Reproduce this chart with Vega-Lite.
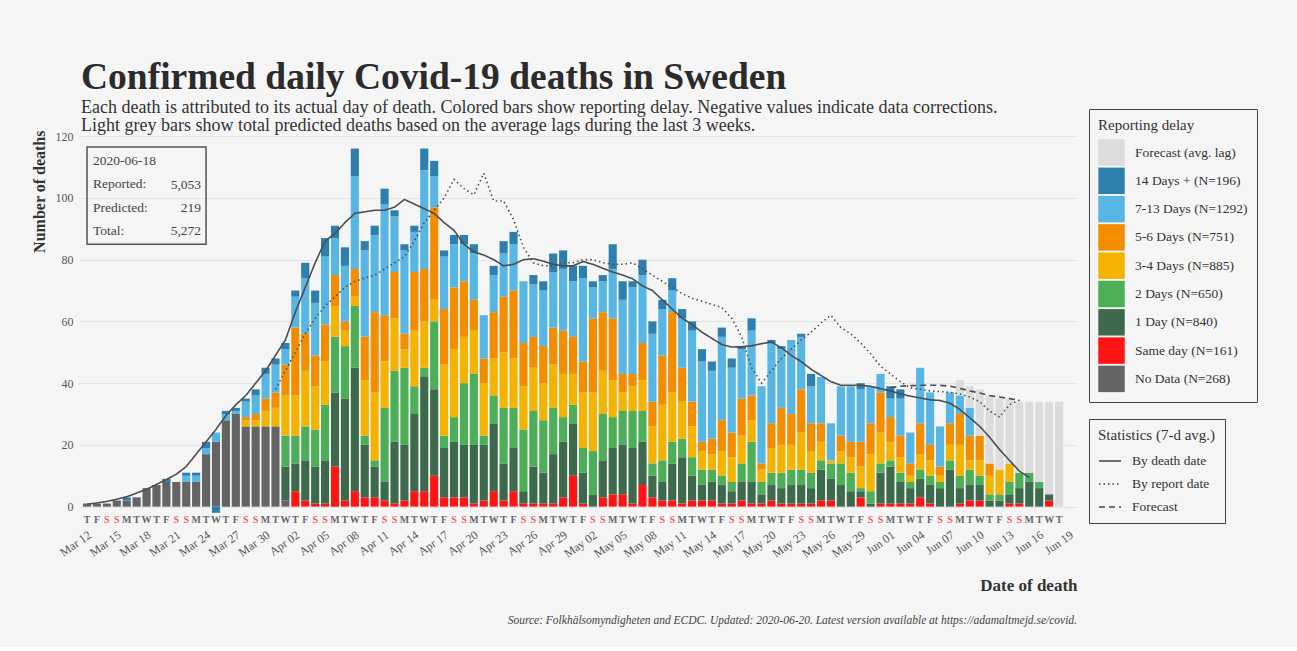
{
  "$schema": "https://vega.github.io/schema/vega-lite/v6.json",
  "background": "#f5f5f5",
  "padding": {"left": 30, "top": 59, "right": 40, "bottom": 20},
  "title": {
    "text": "Confirmed daily Covid-19 deaths in Sweden",
    "subtitle": ["Each death is attributed to its actual day of death. Colored bars show reporting delay. Negative values indicate data corrections.", "Light grey bars show total predicted deaths based on the average lags during the last 3 weeks."],
    "anchor": "start", "dx": 50, "offset": -26,
    "font": "Liberation Serif", "fontSize": 37.5, "fontWeight": "bold", "color": "#2b2b2b",
    "subtitleFont": "Liberation Serif", "subtitleFontSize": 18, "subtitleColor": "#333", "subtitleLineHeight": 18, "subtitlePadding": 2
  },
  "vconcat": [
    {
      "width": 998,
      "height": 389,
      "title": {
        "text": "Source: Folkhälsomyndigheten and ECDC. Updated: 2020-06-20. Latest version available at https://adamaltmejd.se/covid.",
        "orient": "bottom", "anchor": "end", "frame": "group", "offset": 22,
        "font": "Liberation Serif", "fontSize": 11.5, "fontStyle": "italic", "fontWeight": "normal", "color": "#444"
      },
      "data": {"values": [
        {"d":"2020-03-12","w":"T","k0":1,"a":0.8},
        {"d":"2020-03-13","w":"F","k0":1,"a":1.2},
        {"d":"2020-03-14","w":"S","k0":1,"a":1.7},
        {"d":"2020-03-15","w":"S","k0":2,"a":2.4},
        {"d":"2020-03-16","w":"M","k0":2,"k7":1,"a":3.2},
        {"d":"2020-03-17","w":"T","k0":3,"a":4.4},
        {"d":"2020-03-18","w":"W","k0":6,"a":5.6},
        {"d":"2020-03-19","w":"T","k0":7,"a":7.2},
        {"d":"2020-03-20","w":"F","k0":8,"k7":1,"a":8.8},
        {"d":"2020-03-21","w":"S","k0":8,"a":10.5},
        {"d":"2020-03-22","w":"S","k0":8,"k6":2,"k7":1,"a":13},
        {"d":"2020-03-23","w":"M","k0":8,"k6":2,"k7":1,"a":17},
        {"d":"2020-03-24","w":"T","k0":17,"k6":2,"k7":2,"a":21},
        {"d":"2020-03-25","w":"W","k0":21,"k6":3,"k7":-2,"a":25},
        {"d":"2020-03-26","w":"T","k0":28,"k6":2,"k7":1,"a":29.5},
        {"d":"2020-03-27","w":"F","k0":30,"k6":1,"k7":1,"a":33},
        {"d":"2020-03-28","w":"S","k0":26,"k4":2,"k5":1,"k6":5,"k7":1,"a":36},
        {"d":"2020-03-29","w":"S","k0":26,"k4":2,"k5":2,"k6":6,"k7":2,"a":40},
        {"d":"2020-03-30","w":"M","k0":26,"k4":5,"k5":4,"k6":8,"k7":2,"a":44},
        {"d":"2020-03-31","w":"T","k0":26,"k4":6,"k5":5,"k6":9,"k7":2,"a":49,"r":38},
        {"d":"2020-04-01","w":"W","k0":2,"k2":11,"k3":10,"k4":13,"k5":10,"k6":5,"k7":2,"a":54,"r":44},
        {"d":"2020-04-02","w":"T","k1":5,"k2":9,"k3":9,"k4":13,"k5":22,"k6":10,"k7":2,"a":63,"r":50},
        {"d":"2020-04-03","w":"F","k1":2,"k2":13,"k3":11,"k4":18,"k5":12,"k6":18,"k7":5,"a":71,"r":56},
        {"d":"2020-04-04","w":"S","k1":1,"k2":12,"k3":12,"k4":14,"k5":10,"k6":17,"k7":4,"a":79,"r":61},
        {"d":"2020-04-05","w":"S","k1":1,"k2":14,"k3":18,"k4":14,"k5":12,"k6":22,"k7":6,"a":86,"r":65},
        {"d":"2020-04-06","w":"M","k1":13,"k2":24,"k3":18,"k4":10,"k5":10,"k6":12,"k7":4,"a":88.5,"r":68},
        {"d":"2020-04-07","w":"T","k1":2,"k2":33,"k3":17,"k4":5,"k5":3,"k6":18,"k7":6,"a":92,"r":71},
        {"d":"2020-04-08","w":"W","k1":5,"k2":40,"k3":20,"k4":3,"k5":9,"k6":30,"k7":9,"a":95,"r":73},
        {"d":"2020-04-09","w":"T","k1":3,"k2":17,"k3":3,"k4":18,"k5":14,"k6":28,"k7":3,"a":95.5,"r":74},
        {"d":"2020-04-10","w":"F","k1":3,"k2":10,"k3":2,"k4":22,"k5":26,"k6":25,"k7":3,"a":96,"r":75},
        {"d":"2020-04-11","w":"S","k1":2,"k2":6,"k3":24,"k4":15,"k5":15,"k6":36,"k7":5,"a":96,"r":77},
        {"d":"2020-04-12","w":"S","k1":1,"k2":20,"k3":23,"k4":17,"k5":15,"k6":18,"k7":2,"a":97,"r":79},
        {"d":"2020-04-13","w":"M","k1":2,"k2":18,"k3":25,"k4":6,"k5":5,"k6":27,"k7":2,"a":99.5,"r":81},
        {"d":"2020-04-14","w":"T","k1":5,"k2":25,"k3":9,"k4":18,"k5":19,"k6":13,"k7":2,"a":98,"r":86},
        {"d":"2020-04-15","w":"W","k1":5,"k2":37,"k3":3,"k4":15,"k5":17,"k6":32,"k7":7,"a":96.5,"r":92},
        {"d":"2020-04-16","w":"T","k1":10,"k2":28,"k3":22,"k4":7,"k5":30,"k6":10,"k7":5,"a":95,"r":96},
        {"d":"2020-04-17","w":"F","k1":3,"k2":16,"k3":4,"k4":23,"k5":18,"k6":17,"k7":2,"a":92,"r":100},
        {"d":"2020-04-18","w":"S","k1":3,"k2":18,"k3":8,"k4":22,"k5":20,"k6":14,"k7":3,"a":89.5,"r":106},
        {"d":"2020-04-19","w":"S","k1":3,"k2":17,"k3":20,"k4":15,"k5":18,"k6":12,"k7":3,"a":85,"r":103},
        {"d":"2020-04-20","w":"M","k1":1,"k2":19,"k3":23,"k4":14,"k5":10,"k6":15,"k7":3,"a":82.5,"r":101},
        {"d":"2020-04-21","w":"T","k1":2,"k2":18,"k3":3,"k4":17,"k5":8,"k6":14,"a":81.5,"r":108},
        {"d":"2020-04-22","w":"W","k1":5,"k2":22,"k3":9,"k4":12,"k5":15,"k6":12,"k7":3,"a":80,"r":99},
        {"d":"2020-04-23","w":"T","k1":2,"k2":12,"k3":18,"k4":18,"k5":18,"k6":14,"k7":4,"a":78,"r":99},
        {"d":"2020-04-24","w":"F","k1":5,"k2":14,"k3":13,"k4":16,"k5":22,"k6":15,"k7":4,"a":78.5,"r":93},
        {"d":"2020-04-25","w":"S","k1":1,"k2":4,"k3":20,"k4":14,"k5":14,"k6":20,"a":80,"r":84},
        {"d":"2020-04-26","w":"S","k1":1,"k2":12,"k3":18,"k4":14,"k5":10,"k6":17,"k7":3,"a":80.3,"r":79},
        {"d":"2020-04-27","w":"M","k1":1,"k2":10,"k3":17,"k4":12,"k5":12,"k6":18,"k7":3,"a":79.5,"r":78},
        {"d":"2020-04-28","w":"T","k1":1,"k2":16,"k3":15,"k4":14,"k5":12,"k6":18,"k7":6,"a":78.5,"r":78},
        {"d":"2020-04-29","w":"W","k1":3,"k2":18,"k3":8,"k4":14,"k5":14,"k6":20,"k7":6,"a":78,"r":79},
        {"d":"2020-04-30","w":"T","k1":10,"k2":17,"k3":6,"k4":10,"k5":12,"k6":18,"k7":5,"a":78,"r":79},
        {"d":"2020-05-01","w":"F","k1":1,"k2":10,"k3":8,"k4":18,"k5":10,"k6":27,"k7":4,"a":79.4,"r":80},
        {"d":"2020-05-02","w":"S","k2":4,"k3":14,"k4":19,"k5":24,"k6":10,"k7":2,"a":78.5,"r":80},
        {"d":"2020-05-03","w":"S","k1":3,"k2":12,"k3":15,"k4":14,"k5":19,"k6":10,"k7":2,"a":77.2,"r":79},
        {"d":"2020-05-04","w":"M","k1":4,"k2":15,"k3":10,"k4":12,"k5":20,"k6":16,"k7":8,"a":76,"r":78.5},
        {"d":"2020-05-05","w":"T","k1":4,"k2":16,"k3":11,"k4":6,"k5":6,"k6":24,"k7":6,"a":75,"r":78.5},
        {"d":"2020-05-06","w":"W","k1":1,"k2":18,"k3":12,"k4":8,"k5":4,"k6":28,"k7":2,"a":73.8,"r":79},
        {"d":"2020-05-07","w":"T","k1":7,"k2":14,"k3":10,"k4":10,"k5":12,"k6":22,"k7":5,"a":71.5,"r":77},
        {"d":"2020-05-08","w":"F","k1":3,"k2":7,"k3":4,"k4":12,"k5":8,"k6":22,"k7":4,"a":70,"r":75},
        {"d":"2020-05-09","w":"S","k1":2,"k2":6,"k3":7,"k4":18,"k5":16,"k6":15,"k7":3,"a":67,"r":73},
        {"d":"2020-05-10","w":"S","k1":2,"k2":12,"k3":7,"k4":16,"k5":26,"k6":7,"k7":4,"a":64,"r":71},
        {"d":"2020-05-11","w":"M","k1":1,"k2":15,"k3":6,"k4":12,"k5":11,"k6":16,"k7":3,"a":61,"r":69},
        {"d":"2020-05-12","w":"T","k1":2,"k2":8,"k3":6,"k4":10,"k5":8,"k6":23,"k7":3,"a":59,"r":67.5},
        {"d":"2020-05-13","w":"W","k1":2,"k2":5,"k3":5,"k4":6,"k5":3,"k6":26,"k7":4,"a":56.5,"r":66.5},
        {"d":"2020-05-14","w":"T","k1":2,"k2":6,"k3":4,"k4":5,"k5":5,"k6":22,"k7":3,"a":54.5,"r":65.5},
        {"d":"2020-05-15","w":"F","k1":1,"k2":6,"k3":3,"k4":8,"k5":10,"k6":27,"k7":3,"a":52.5,"r":64.5},
        {"d":"2020-05-16","w":"S","k1":1,"k2":4,"k3":3,"k4":8,"k5":8,"k6":21,"k7":3,"a":51.7,"r":61},
        {"d":"2020-05-17","w":"S","k1":2,"k2":6,"k3":6,"k4":9,"k5":12,"k6":16,"k7":1,"a":51.8,"r":55},
        {"d":"2020-05-18","w":"M","k1":1,"k2":7,"k3":13,"k4":7,"k5":8,"k6":21,"k7":4,"a":52.1,"r":45},
        {"d":"2020-05-19","w":"T","k1":1,"k2":3,"k3":4,"k4":4,"k5":2,"k6":25,"a":52.8,"r":40},
        {"d":"2020-05-20","w":"W","k1":2,"k2":5,"k3":4,"k4":8,"k5":8,"k6":26,"k7":1,"a":53.3,"r":44},
        {"d":"2020-05-21","w":"T","k1":1,"k2":5,"k3":5,"k4":9,"k5":12,"k6":19,"k7":1,"a":51.5,"r":48},
        {"d":"2020-05-22","w":"F","k1":1,"k2":6,"k3":5,"k4":8,"k5":10,"k6":24,"a":49,"r":51},
        {"d":"2020-05-23","w":"S","k1":1,"k2":6,"k3":5,"k4":12,"k5":14,"k6":17,"k7":1,"a":47,"r":54},
        {"d":"2020-05-24","w":"S","k1":1,"k2":5,"k3":5,"k4":7,"k5":9,"k6":12,"k7":4,"a":44.5,"r":56.5},
        {"d":"2020-05-25","w":"M","k1":2,"k2":10,"k3":3,"k4":6,"k5":6,"k6":15,"a":42.5,"r":59.5},
        {"d":"2020-05-26","w":"T","k1":2,"k2":7,"k3":5,"k4":1,"k6":12,"a":40.5,"r":62},
        {"d":"2020-05-27","w":"W","k2":7,"k3":7,"k4":4,"k5":5,"k6":16,"a":39.3,"r":58},
        {"d":"2020-05-28","w":"T","k2":5,"k3":6,"k4":5,"k5":5,"k6":18,"a":39.3,"r":56},
        {"d":"2020-05-29","w":"F","k1":3,"k2":2,"k3":1,"k4":7,"k5":8,"k6":17,"k7":2,"a":39.3,"r":53},
        {"d":"2020-05-30","w":"S","k2":1,"k3":4,"k4":12,"k5":10,"k6":12,"a":39,"r":49.5},
        {"d":"2020-05-31","w":"S","k1":1,"k2":10,"k3":3,"k4":10,"k5":13,"k6":6,"a":38.2,"r":45.5},
        {"d":"2020-06-01","w":"M","k1":1,"k2":12,"k3":2,"k4":6,"k5":8,"k6":6,"k7":4,"a":37.5,"r":43,"f":38.5},
        {"d":"2020-06-02","w":"T","k1":1,"k2":7,"k3":3,"k4":5,"k5":7,"k6":12,"k7":3,"a":36.5,"r":40.5,"f":39},
        {"d":"2020-06-03","w":"W","k1":1,"k2":5,"k3":2,"k4":2,"k5":4,"k6":10,"a":35.8,"r":38.5,"f":39.2},
        {"d":"2020-06-04","w":"T","k1":3,"k2":6,"k3":3,"k4":5,"k5":10,"k6":18,"a":35.2,"r":38,"f":39.3},
        {"d":"2020-06-05","w":"F","k1":1,"k2":6,"k3":3,"k4":5,"k5":5,"k6":17,"a":34.6,"r":37.5,"f":39.3},
        {"d":"2020-06-06","w":"S","k2":6,"k3":2,"k4":2,"k5":3,"k6":13,"a":34.4,"r":37.3,"f":39.3},
        {"d":"2020-06-07","w":"S","k2":12,"k3":3,"k4":5,"k5":7,"k6":10,"a":33.5,"r":37,"f":39},
        {"d":"2020-06-08","w":"M","k1":1,"k2":5,"k3":4,"k4":10,"k5":10,"k6":6,"k8":5,"a":31.5,"r":36.5,"f":38.3},
        {"d":"2020-06-09","w":"T","k1":2,"k2":5,"k3":5,"k4":3,"k5":8,"k6":9,"k8":7,"a":28.8,"r":35.5,"f":37.5},
        {"d":"2020-06-10","w":"W","k1":2,"k2":5,"k3":3,"k4":5,"k5":8,"k8":15,"a":26,"r":34,"f":36.8},
        {"d":"2020-06-11","w":"T","k2":2,"k3":2,"k4":6,"k5":4,"k8":22,"a":22.5,"r":31,"f":36},
        {"d":"2020-06-12","w":"F","k2":2,"k3":2,"k4":8,"k8":23,"a":18.5,"r":29,"f":35.5},
        {"d":"2020-06-13","w":"S","k1":1,"k2":3,"k3":4,"k4":6,"k8":21,"a":15,"r":33,"f":35},
        {"d":"2020-06-14","w":"S","k1":1,"k2":5,"k3":5,"k8":23,"a":11.5,"r":34.5,"f":34.5},
        {"d":"2020-06-15","w":"M","k2":8,"k3":3,"k8":23,"a":9.5},
        {"d":"2020-06-16","w":"T","k2":6,"k3":2,"k8":26},
        {"d":"2020-06-17","w":"W","k1":2,"k2":2,"k8":30},
        {"d":"2020-06-18","w":"T","k8":34},
        {"d":"2020-06-19","w":""}
      ]},
      "encoding": {
        "x": {
          "field": "d", "type": "ordinal",
          "scale": {"type": "band", "paddingInner": 0.18, "paddingOuter": 0.4},
          "axis": {
            "title": "Date of death",
            "values": ["2020-03-12","2020-03-15","2020-03-18","2020-03-21","2020-03-24","2020-03-27","2020-03-30","2020-04-02","2020-04-05","2020-04-08","2020-04-11","2020-04-14","2020-04-17","2020-04-20","2020-04-23","2020-04-26","2020-04-29","2020-05-02","2020-05-05","2020-05-08","2020-05-11","2020-05-14","2020-05-17","2020-05-20","2020-05-23","2020-05-26","2020-05-29","2020-06-01","2020-06-04","2020-06-07","2020-06-10","2020-06-13","2020-06-16","2020-06-19"],
            "labelExpr": "utcFormat(toDate(datum.value), '%b %d')",
            "labelAngle": -35, "labelAlign": "right", "labelBaseline": "top",
            "labelPadding": 10, "labelFontSize": 12, "labelColor": "#555",
            "domain": false, "ticks": false, "grid": false,
            "titleFontSize": 17, "titleFontWeight": "bold", "titleAnchor": "end", "titlePadding": 18, "titleColor": "#333"
          }
        }
      },
      "layer": [
        {
          "transform": [
            {"fold": ["k0","k1","k2","k3","k4","k5","k6","k7","k8"], "as": ["key","deaths"]},
            {"filter": "isValid(datum.deaths)"}
          ],
          "mark": {"type": "bar"},
          "encoding": {
            "y": {
              "field": "deaths", "type": "quantitative", "stack": "zero",
              "scale": {"domain": [-4, 122], "nice": false, "zero": false},
              "axis": {
                "title": "Number of deaths", "values": [0,10,20,30,40,50,60,70,80,90,100,110,120],
                "labelExpr": "datum.value % 20 === 0 ? datum.label : ''",
                "grid": true, "gridColor": "#e4e4e4", "domain": false, "ticks": false,
                "labelPadding": 6, "labelFontSize": 12, "labelColor": "#555",
                "titleAnchor": "end", "titleFontWeight": "bold", "titleFontSize": 16, "titlePadding": 8, "titleColor": "#333"
              }
            },
            "color": {
              "field": "key", "type": "nominal",
              "scale": {
                "domain": ["k8","k7","k6","k5","k4","k3","k2","k1","k0"],
                "range": ["#dcdcdc","#2f7fae","#58b6e4","#f28d00","#f3b300","#4cae57","#3d6a4c","#ff1414","#646464"]
              },
              "legend": {
                "title": "Reporting delay", "orient": "none", "legendX": 1010, "legendY": -21,
                "symbolType": "square", "symbolSize": 700, "symbolStrokeWidth": 0, "symbolOpacity": 1,
                "rowPadding": 1.3, "labelOffset": 10, "padding": 9, "titlePadding": 6, "labelFontSize": 13.5,
                "labelExpr": "datum.label == 'k8' ? 'Forecast (avg. lag)' : datum.label == 'k7' ? '14 Days + (N=196)' : datum.label == 'k6' ? '7-13 Days (N=1292)' : datum.label == 'k5' ? '5-6 Days (N=751)' : datum.label == 'k4' ? '3-4 Days (N=885)' : datum.label == 'k3' ? '2 Days (N=650)' : datum.label == 'k2' ? '1 Day (N=840)' : datum.label == 'k1' ? 'Same day (N=161)' : 'No Data (N=268)'"
              }
            },
            "order": {"field": "key", "sort": "ascending"}
          }
        },
        {
          "transform": [
            {"fold": ["a","r","f"], "as": ["stat","val"]},
            {"filter": "isValid(datum.val)"}
          ],
          "mark": {"type": "line", "color": "#4d4d4d", "strokeWidth": 1.6},
          "encoding": {
            "y": {
              "field": "val", "type": "quantitative", "stack": null,
              "axis": {
                "title": "Number of deaths", "values": [0,10,20,30,40,50,60,70,80,90,100,110,120],
                "labelExpr": "datum.value % 20 === 0 ? datum.label : ''",
                "grid": true, "gridColor": "#e4e4e4", "domain": false, "ticks": false,
                "labelPadding": 6, "labelFontSize": 12, "labelColor": "#555",
                "titleAnchor": "end", "titleFontWeight": "bold", "titleFontSize": 16, "titlePadding": 8, "titleColor": "#333"
              }
            },
            "strokeDash": {
              "field": "stat", "type": "nominal",
              "scale": {"domain": ["a","r","f"], "range": [[1,0],[1.5,3],[6,4]]},
              "legend": {
                "title": "Statistics (7-d avg.)", "orient": "none", "legendX": 1010, "legendY": 289,
                "symbolType": "stroke", "symbolSize": 484, "symbolStrokeColor": "#444", "symbolStrokeWidth": 1.6,
                "rowPadding": 4, "labelOffset": 10, "padding": 9, "titlePadding": 6, "labelFontSize": 13.5,
                "labelExpr": "datum.label == 'a' ? 'By death date' : datum.label == 'r' ? 'By report date' : 'Forecast'"
              }
            }
          }
        },
        {
          "mark": {"type": "text", "fontSize": 10, "fontWeight": "bold", "baseline": "middle", "align": "center"},
          "encoding": {
            "y": {"datum": -4.3},
            "text": {"field": "w"},
            "color": {"condition": {"test": "datum.w === 'S'", "value": "#e8606a"}, "value": "#666666"}
          }
        },
        {
          "data": {"values": [{}]},
          "mark": {"type": "rect", "fillOpacity": 0, "stroke": "#555", "strokeWidth": 1.5},
          "encoding": {
            "x": {"datum": "2020-03-12", "type": "ordinal"},
            "x2": {"datum": "2020-03-24"},
            "y": {"datum": 116.5},
            "y2": {"datum": 85}
          }
        },
        {
          "data": {"values": [{}]},
          "mark": {"type": "text", "text": ["2020-06-18", "Reported:", "Predicted:", "Total:"], "align": "left", "baseline": "middle", "lineHeight": 23.3, "fontSize": 13.5, "dx": 6, "color": "#444"},
          "encoding": {
            "x": {"datum": "2020-03-12", "type": "ordinal"},
            "y": {"datum": 111.9}
          }
        },
        {
          "data": {"values": [{}]},
          "mark": {"type": "text", "text": ["5,053", "219", "5,272"], "align": "right", "baseline": "middle", "lineHeight": 23.3, "fontSize": 13.5, "dx": -5, "color": "#444"},
          "encoding": {
            "x": {"datum": "2020-03-24", "type": "ordinal"},
            "y": {"datum": 104.3}
          }
        }
      ]
    }
  ],
  "config": {
    "font": "Liberation Serif",
    "view": {"stroke": null},
    "axis": {"labelFont": "Liberation Serif", "titleFont": "Liberation Serif"},
    "legend": {"labelFont": "Liberation Serif", "titleFont": "Liberation Serif", "labelFontSize": 13, "titleFontSize": 15, "titleFontWeight": "normal", "labelColor": "#333", "titleColor": "#333", "strokeColor": "#444", "fillColor": "#f5f5f5"},
    "concat": {"spacing": 0}
  }
}
